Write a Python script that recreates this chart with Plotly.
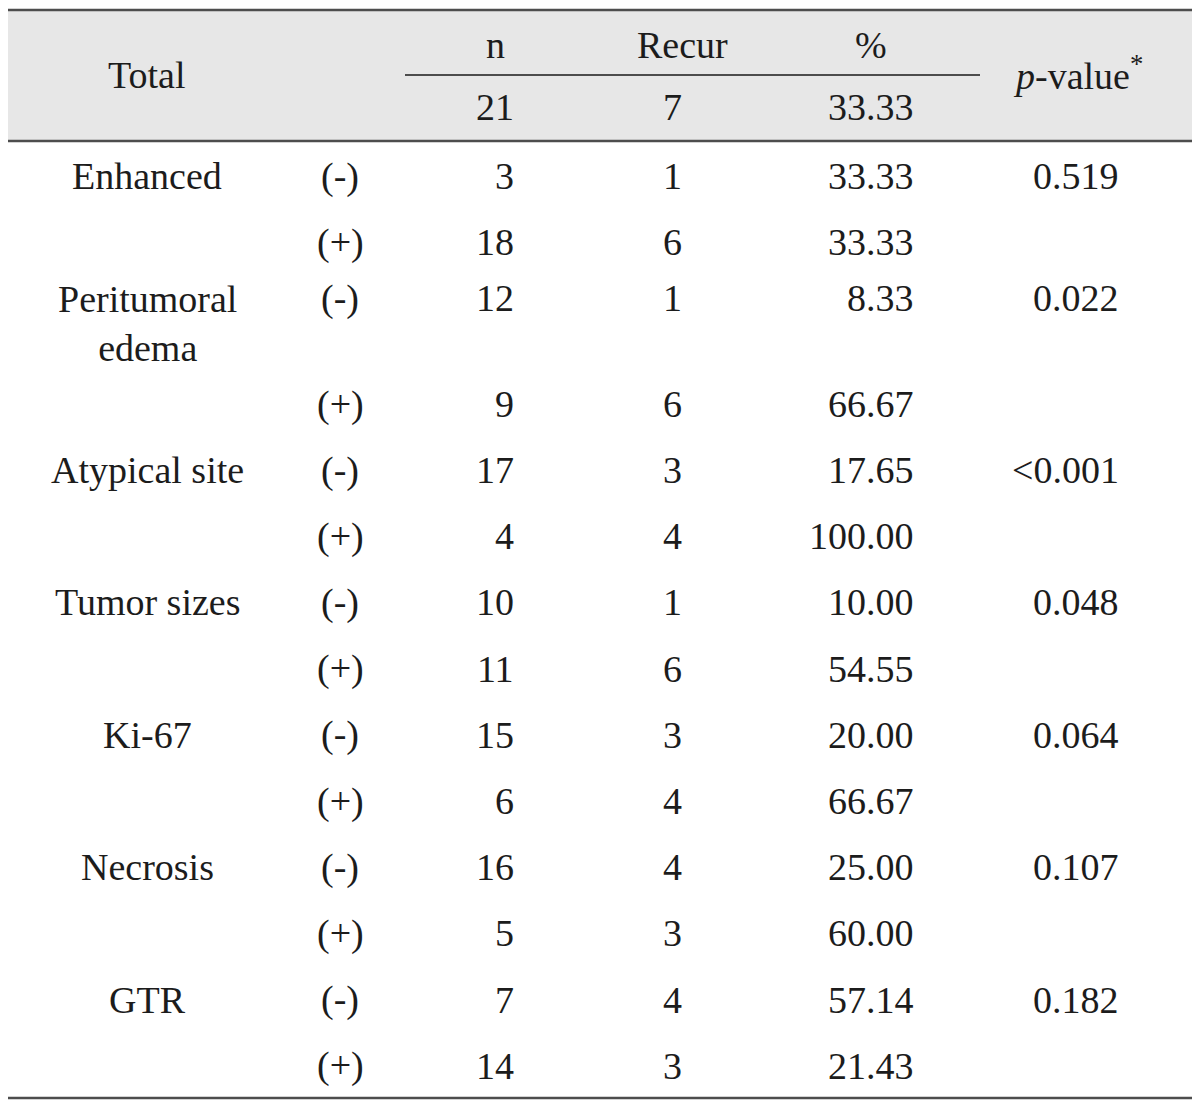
import plotly.graph_objects as go

# ---------------- data ----------------
categories = ["Enhanced", "Peritumoral<br>edema", "Atypical site", "Tumor sizes",
              "Ki-67", "Necrosis", "GTR"]
signs = ["(-)", "(+)"]
n_vals = [3, 18, 12, 9, 17, 4, 10, 11, 15, 6, 16, 5, 7, 14]
recur_vals = [1, 6, 1, 6, 3, 4, 1, 6, 3, 4, 4, 3, 4, 3]
pct_vals = ["33.33", "33.33", "8.33", "66.67", "17.65", "100.00", "10.00",
            "54.55", "20.00", "66.67", "25.00", "60.00", "57.14", "21.43"]
p_vals = ["0.519", "0.022", "<0.001", "0.048", "0.064", "0.107", "0.182"]
header_cols = ["n", "Recur", "%"]
total_vals = ["21", "7", "33.33"]
total_label = "Total"
p_header = "<i>p</i>-value<sup>*</sup>"

# ---------------- layout constants ----------------
W, H = 1200, 1109
PAGE_OFF = 8          # default body margin of the html page
FONT = "Liberation Serif"
FS = 38
TXT = "#1c1c1c"
LINE = "#4d4d4d"

x_label = 147
x_sign = 340
x_n_right = 516
x_recur = 672
x_pct_right = 916
x_p_right = 1121
x_hdr = [495, 682, 871]
x_tot = [495, 672, 871]

y_top, y_hdr_bot, y_bottom = 10, 141, 1098
y_hdr1, y_hdr2, y_hdr_mid = 45, 107, 75

# row centres of the body
row_y = [176, 242, 298, 404]
for k in range(10):
    row_y.append(470 + 66.2 * k)

fig = go.Figure()
annots = []


def add(x, y, text, xanchor="center"):
    annots.append(dict(x=x, y=y, xref="x", yref="y", text=text, showarrow=False,
                       xanchor=xanchor, yanchor="middle",
                       font=dict(family=FONT, size=FS, color=TXT)))


# header
add(x_label, y_hdr_mid, total_label)
for xc, t in zip(x_hdr, header_cols):
    add(xc, y_hdr1, t)
for xc, t in zip(x_tot, total_vals):
    add(xc, y_hdr2, t)
add(1078, y_hdr_mid - 2, p_header)

# body
for i, cat in enumerate(categories):
    r0 = 2 * i
    ya = row_y[r0]
    if "<br>" in cat:
        add(x_label, ya + 25, cat)
    else:
        add(x_label, ya, cat)
    add(x_p_right, ya, p_vals[i], xanchor="right")
    for j in range(2):
        r = r0 + j
        y = row_y[r]
        add(x_sign, y, signs[j])
        add(x_n_right, y, str(n_vals[r]), xanchor="right")
        add(x_recur, y, str(recur_vals[r]))
        add(x_pct_right, y, pct_vals[r], xanchor="right")

shapes = [
    dict(type="rect", xref="x", yref="y", x0=5, x1=1195, y0=y_top, y1=y_hdr_bot,
         fillcolor="#e7e7e7", line=dict(width=0), layer="below"),
    dict(type="line", xref="x", yref="y", x0=5, x1=1195, y0=y_top, y1=y_top,
         line=dict(color=LINE, width=2.5)),
    dict(type="line", xref="x", yref="y", x0=5, x1=1195, y0=y_hdr_bot, y1=y_hdr_bot,
         line=dict(color=LINE, width=2.5)),
    dict(type="line", xref="x", yref="y", x0=405, x1=980, y0=y_hdr_mid, y1=y_hdr_mid,
         line=dict(color=LINE, width=2)),
    dict(type="line", xref="x", yref="y", x0=5, x1=1195, y0=y_bottom, y1=y_bottom,
         line=dict(color=LINE, width=2.5)),
]

fig.update_layout(
    width=W - PAGE_OFF, height=H - PAGE_OFF,
    margin=dict(l=0, r=0, t=0, b=0),
    paper_bgcolor="white", plot_bgcolor="white",
    xaxis=dict(range=[PAGE_OFF, W], visible=False, fixedrange=True),
    yaxis=dict(range=[H, PAGE_OFF], visible=False, fixedrange=True),
    annotations=annots, shapes=shapes, showlegend=False,
)

fig.write_html("out.html")
